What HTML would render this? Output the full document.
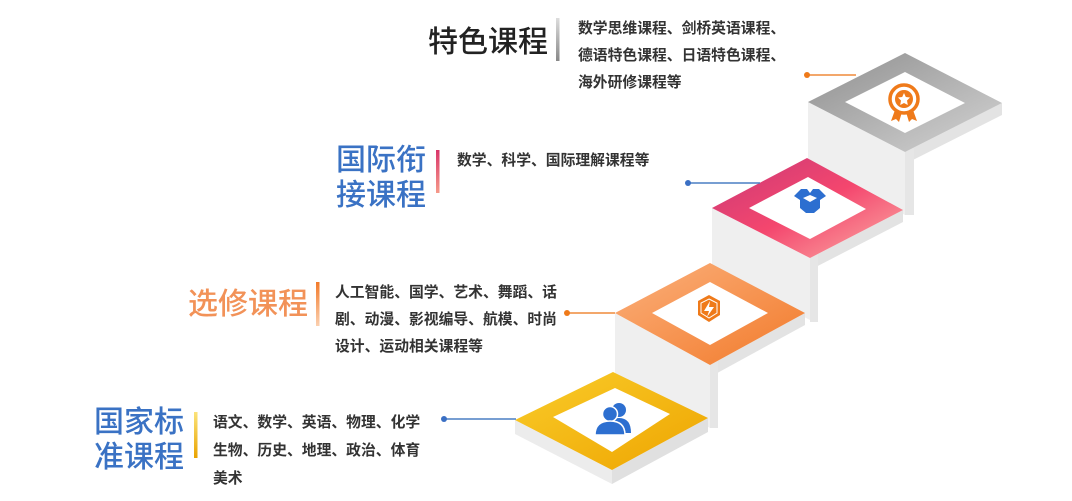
<!DOCTYPE html>
<html><head><meta charset="utf-8"><style>
body{margin:0;background:#fff;width:1072px;height:501px;overflow:hidden}
svg{display:block}
.t{font-family:"Liberation Sans","Noto Sans CJK SC",sans-serif}
.d{font-size:14.8px;fill:#333;font-weight:bold}
.h{font-size:30px;font-weight:500}
</style></head><body>
<svg width="1072" height="501" viewBox="0 0 1072 501" class="t">
<defs>
<linearGradient id="gy" x1="0" y1="0" x2="1" y2="1"><stop offset="0" stop-color="#f9cc2a"/><stop offset="1" stop-color="#eea400"/></linearGradient>
<linearGradient id="go" x1="0" y1="0" x2="1" y2="1"><stop offset="0" stop-color="#fbb07c"/><stop offset="1" stop-color="#f27a2a"/></linearGradient>
<linearGradient id="gp" x1="0" y1="0" x2="1" y2="1"><stop offset="0" stop-color="#c93a78"/><stop offset="0.5" stop-color="#f4466e"/><stop offset="1" stop-color="#fbb0a6"/></linearGradient>
<linearGradient id="gg" x1="0" y1="0" x2="1" y2="1"><stop offset="0" stop-color="#8f8f8f"/><stop offset="1" stop-color="#d4d4d4"/></linearGradient>
<linearGradient id="b1" x1="0" y1="0" x2="0" y2="1"><stop offset="0" stop-color="#ddd"/><stop offset="1" stop-color="#888"/></linearGradient>
<linearGradient id="b2" x1="0" y1="0" x2="0" y2="1"><stop offset="0" stop-color="#d9366a"/><stop offset="1" stop-color="#f59a8a"/></linearGradient>
<linearGradient id="b3" x1="0" y1="0" x2="0" y2="1"><stop offset="0" stop-color="#f27a2a"/><stop offset="1" stop-color="#fbd0b0"/></linearGradient>
<linearGradient id="b4" x1="0" y1="0" x2="0" y2="1"><stop offset="0" stop-color="#fbe37a"/><stop offset="1" stop-color="#e9a300"/></linearGradient>
</defs>

<g>
<polygon points="808,102 905,152 905,215 808,165" fill="#efefef"/>
<polygon points="905,152 1002,103 1002,115 905,164" fill="#e3e3e3"/>
<polygon points="905,152 914,148 914,215 905,215" fill="#e6e6e6"/>
<polygon points="808,102 905,53 1002,103 905,152" fill="url(#gg)"/>
<polygon points="845,102 905,72 965,103 905,133" fill="#fff"/>
</g>
<g>
<polygon points="712,208 810,258 810,320 712,270" fill="#efefef"/>
<polygon points="810,258 903,210 903,222 810,270" fill="#e3e3e3"/>
<polygon points="810,258 818,254 818,322 810,322" fill="#e6e6e6"/>
<polygon points="712,208 807,158 903,210 810,258" fill="url(#gp)"/>
<polygon points="749,208 808,177 866,209 810,239" fill="#fff"/>
</g>
<g>
<polygon points="615,313 710,365 710,428 615,376" fill="#efefef"/>
<polygon points="710,365 805,313 805,325 710,377" fill="#e3e3e3"/>
<polygon points="710,365 718,361 718,428 710,428" fill="#e6e6e6"/>
<polygon points="615,313 710,263 805,313 710,365" fill="url(#go)"/>
<polygon points="652,313 710,282 768,313 710,345" fill="#fff"/>
</g>
<g>
<polygon points="515,420 612,470 612,484 515,434" fill="#ececec"/>
<polygon points="612,470 708,418 708,432 612,484" fill="#e0e0e0"/>
<polygon points="515,420 613,372 708,418 612,470" fill="url(#gy)"/>
<polygon points="553,417 615,388 670,414 612,452" fill="#fff"/>
</g>

<g fill="#ef7a1a">
<circle cx="904" cy="99" r="14" fill="none" stroke="#ef7a1a" stroke-width="3.5"/>
<circle cx="904" cy="99" r="9"/>
<polygon points="895,110 891,121 896,119 899,122 902,112"/>
<polygon points="913,110 917,121 912,119 909,122 906,112"/>
<polygon points="904,93 905.8,97 910,97.5 907,100.5 907.8,105 904,103 900.2,105 901,100.5 898,97.5 902.2,97" fill="#fff"/>
</g>
<g fill="#2d6fd0">
<path d="M794,196 l7,-7 h6 l3,4 l3,-4 h6 l7,7 l-6,4 v8 l-6,5 h-8 l-6,-5 v-8z"/>
<polygon points="803,198 810,195 817,198 810,202" fill="#fff"/>
</g>
<g>
<polygon points="709,295 720,301 720,315 709,322 698,315 698,301" fill="#ef7a1a"/>
<polygon points="709,299 717,303 717,313 709,318 701,313 701,303" fill="none" stroke="#fff" stroke-width="1"/>
<polygon points="710,301 704,311 709,311 707,317 714,307 709,307" fill="#fff"/>
</g>
<g fill="#2d6fd0">
<circle cx="619" cy="410" r="7"/>
<path d="M607,433 q0,-15 12,-15 q12,0 12,15z"/>
<circle cx="610" cy="414" r="7.5" stroke="#fff" stroke-width="1.5"/>
<path d="M595,435 q0,-14 15,-14 q15,0 15,14z" stroke="#fff" stroke-width="1.5"/>
</g>

<g stroke-width="1.5">
<line x1="807" y1="75" x2="856" y2="75" stroke="#ef8a3a"/><circle cx="807" cy="75" r="3" fill="#ef7a1a"/>
<line x1="688" y1="183" x2="760" y2="183" stroke="#4a7fc4"/><circle cx="688" cy="183" r="3" fill="#3a6fc4"/>
<line x1="567" y1="313" x2="615" y2="313" stroke="#ef8a3a"/><circle cx="567" cy="313" r="3" fill="#ef7a1a"/>
<line x1="444" y1="419" x2="516" y2="419" stroke="#4a7fc4"/><circle cx="444" cy="419" r="3" fill="#3a6fc4"/>
</g>

<text x="428" y="52" class="h" fill="#222">特色课程</text>
<rect x="556" y="18" width="3.5" height="43" fill="url(#b1)"/>
<text class="d"><tspan x="578" y="33">数学思维课程、剑桥英语课程、</tspan><tspan x="578" y="60">德语特色课程、日语特色课程、</tspan><tspan x="578" y="87">海外研修课程等</tspan></text>

<text class="h" fill="#3a72c4"><tspan x="336" y="170">国际衔</tspan><tspan x="336" y="205">接课程</tspan></text>
<rect x="436" y="150" width="3.5" height="43" fill="url(#b2)"/>
<text x="457" y="165" class="d">数学、科学、国际理解课程等</text>

<text x="188" y="314" class="h" fill="#f29258">选修课程</text>
<rect x="316" y="282" width="3.5" height="44" fill="url(#b3)"/>
<text class="d"><tspan x="335" y="297">人工智能、国学、艺术、舞蹈、话</tspan><tspan x="335" y="324">剧、动漫、影视编导、航模、时尚</tspan><tspan x="335" y="351">设计、运动相关课程等</tspan></text>

<text class="h" fill="#3a72c4"><tspan x="94" y="432">国家标</tspan><tspan x="94" y="467">准课程</tspan></text>
<rect x="194" y="412" width="3.5" height="46" fill="url(#b4)"/>
<text class="d"><tspan x="213" y="427">语文、数学、英语、物理、化学</tspan><tspan x="213" y="455">生物、历史、地理、政治、体育</tspan><tspan x="213" y="483">美术</tspan></text>
</svg>
</body></html>
